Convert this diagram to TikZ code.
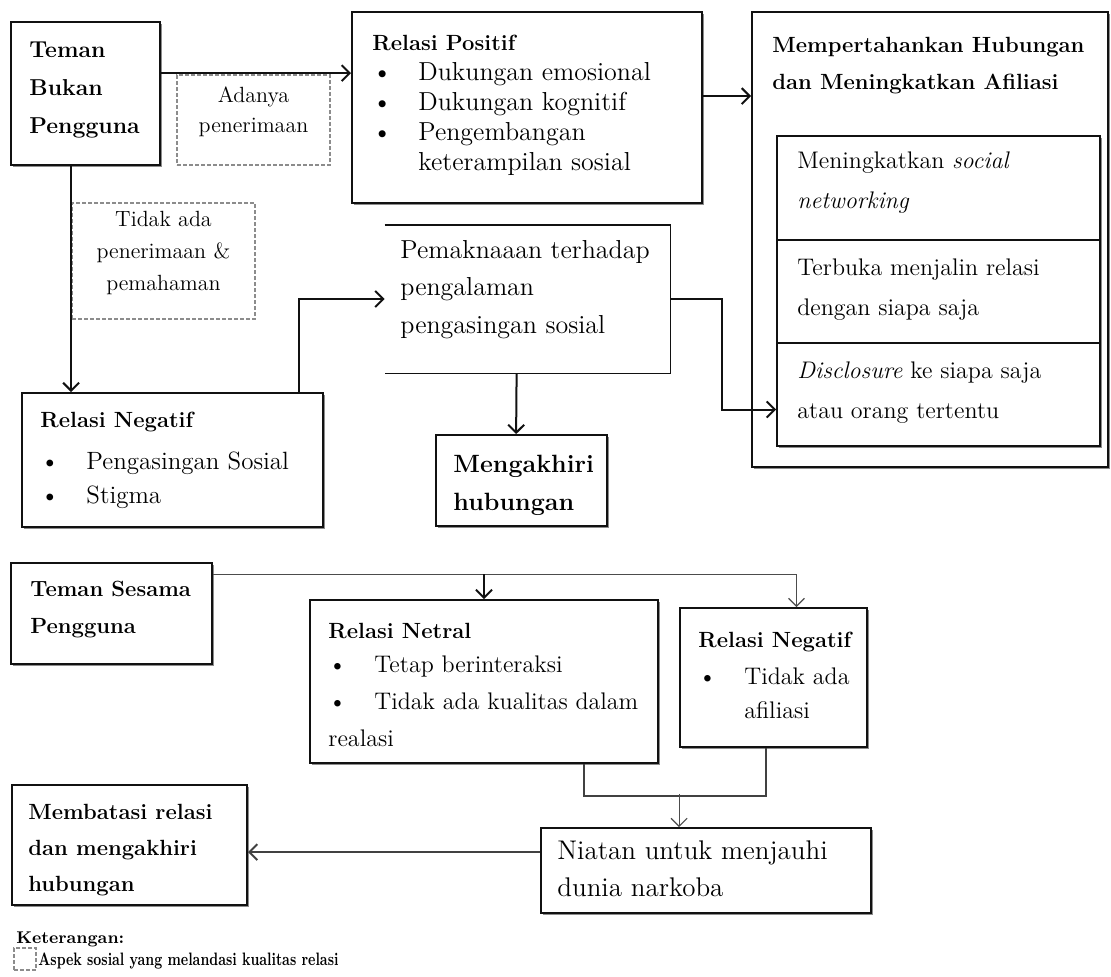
\documentclass[tikz,border=0pt]{standalone}
\usetikzlibrary{arrows.meta,calc,fit,shadows}
\definecolor{ink}{HTML}{111111}
\definecolor{rim}{HTML}{8C8C8C}
\newcommand\bul{\makebox[23pt][l]{\textbullet}}
\newcommand\bulind{\hspace*{23pt}}

\begin{document}
\begin{tikzpicture}[x=0.5pt,y=-0.5pt,>={Straight Barb[length=4pt,width=8pt]},
  box/.style={draw=ink,line width=0.9pt,fill=white,inner sep=0pt,
    drop shadow={shadow xshift=1pt,shadow yshift=-1pt,fill=rim,opacity=1}},
  aspek/.style={draw=rim,dash pattern=on 2pt off 1pt,line width=0.8pt,inner sep=0pt},
  txt/.style={anchor=base west,align=left,inner sep=0pt},
  head/.style={font=\fontsize{11}{18.5}\selectfont\bfseries},
  link/.style={draw=ink,line width=1pt,->},
  thinlink/.style={draw=ink!75,line width=0.6pt,->}]
  \useasboundingbox (0,0) rectangle (1111,976);

  % Teman bukan pengguna (text nodes sit on the baseline of their last line).
  \node[box,fit={(11,22)(160,165)}] (tbp) {};
  \node[txt,font=\fontsize{11.5}{19}\selectfont\bfseries] (tbp-t) at (29,133) {Teman\\Bukan\\Pengguna};
  \node[aspek,fit={(177,75)(330,165)},font=\fontsize{11}{15}\selectfont,align=center] (adanya) {Adanya\\penerimaan};
  \node[aspek,fit={(72,203)(255,319)},font=\fontsize{11}{16}\selectfont,align=center] (tidak) {Tidak ada\\penerimaan \&\\pemahaman};

  \node[box,fit={(352,12)(702,203)}] (positif) {};
  \node[txt,head] (positif-h) at (372,50) {Relasi Positif};
  \node[txt,font=\fontsize{13}{15}\selectfont] (positif-l) at (372,170)
    {\bul Dukungan emosional\\\bul Dukungan kognitif\\\bul Pengembangan\\\bulind keterampilan sosial};

  \node[box,fit={(752,12)(1108,467)}] (keep) {};
  \node[txt,head] (keep-t) at (772,89) {Mempertahankan Hubungan\\dan Meningkatkan Afiliasi};
  \node[box,fit={(777,136)(1100,240)}] (cell1) {};
  \node[box,fit={(777,240)(1100,343)}] (cell2) {};
  \node[box,fit={(777,343)(1100,446)}] (cell3) {};
  \node[txt,font=\fontsize{12}{20}\selectfont] (cell1-t) at (797,208) {Meningkatkan \textit{social}\\\textit{networking}};
  \node[txt,font=\fontsize{12}{20}\selectfont] (cell2-t) at (797,315) {Terbuka menjalin relasi\\dengan siapa saja};
  \node[txt,font=\fontsize{12}{20}\selectfont] (cell3-t) at (797,418) {\textit{Disclosure} ke siapa saja\\atau orang tertentu};

  \node[box,fit={(22,393)(323,527)}] (neg1) {};
  \node[txt,head] (neg1-h) at (40,427) {Relasi Negatif};
  \node[txt,font=\fontsize{12.5}{17}\selectfont] (neg1-l) at (40,503) {\bul Pengasingan Sosial\\\bul Stigma};

  \node[fit={(385,225)(670,373)},inner sep=0pt] (pemak) {};
  \draw[ink,line width=0.9pt] (pemak.north west) -- (pemak.north east) -- (pemak.south east) -- (pemak.south west);
  \node[txt,font=\fontsize{13}{18.75}\selectfont] (pemak-t) at (400,333) {Pemaknaaan terhadap\\pengalaman\\pengasingan sosial};

  \node[box,fit={(436,435)(607,526)}] (akhir) {};
  \node[txt,font=\fontsize{12.5}{19}\selectfont\bfseries] (akhir-t) at (453,510) {Mengakhiri\\hubungan};

  \draw[link] ($(tbp.north east)+(0,52)$) -- ($(positif.north west)+(0,62)$);
  \draw[link] ($(positif.north east)+(0,85)$) -- ($(keep.north west)+(0,85)$);
  \draw[link] ($(tbp.south west)+(61,0)$) -- ($(neg1.north west)+(50,0)$);
  \draw[link] ($(neg1.north west)+(278,0)$) |- (pemak.west);
  \draw[link] ($(pemak.south west)+(132,0)$) -- ($(akhir.north west)+(81,0)$);
  \draw[link] (pemak.east) -- ++(52,0) |- ($(cell3.west)+(0,15)$);

  % Teman sesama pengguna.
  \node[box,fit={(11,563)(212,664)}] (tsp) {};
  \node[txt,head] (tsp-t) at (30,633) {Teman Sesama\\Pengguna};

  \node[box,fit={(310,600)(658,763)}] (netral) {};
  \node[txt,head] (netral-h) at (328,638) {Relasi Netral};
  \node[txt,font=\fontsize{12}{18.5}\selectfont] (netral-l) at (328,746)
    {\bul Tetap berinteraksi\\\bul Tidak ada kualitas dalam\\realasi};

  \node[box,fit={(680,608)(867,747)}] (neg2) {};
  \node[txt,head] (neg2-h) at (698,647) {Relasi Negatif};
  \node[txt,font=\fontsize{12}{17}\selectfont] (neg2-l) at (698,718) {\bul Tidak ada\\\bulind afiliasi};

  \node[box,fit={(541,828)(871,913)}] (niat) {};
  \node[txt,font=\fontsize{13.5}{18.5}\selectfont] (niat-t) at (557,896) {Niatan untuk menjauhi\\dunia narkoba};

  \node[box,fit={(12,785)(247,905)}] (batas) {};
  \node[txt,head,font=\fontsize{11}{18}\selectfont\bfseries] (batas-t) at (28,891) {Membatasi relasi\\dan mengakhiri\\hubungan};

  \coordinate (tsp-o) at ($(tsp.north east)+(0,12)$);
  \draw[thinlink] (tsp-o) -| ($(neg2.north)+(23,0)$);
  \draw[link] (tsp-o -| netral.north) -- (netral.north);
  \coordinate (nj) at ($(netral.south east)+(-75,32)$);
  \draw[ink!80,line width=1pt] ($(netral.south east)+(-75,0)$) -- (nj) -| ($(neg2.south west)+(87,0)$);
  \draw[thinlink] ($(niat.north west)+(139,-33)$) -- ($(niat.north west)+(139,0)$);
  \draw[link,draw=ink!80] ($(niat.north west)+(0,25)$) -- ($(batas.north east)+(0,68)$);

  % Keterangan.
  \node[txt,font=\fontsize{8.5}{10}\selectfont\bfseries] (ket) at (16,943) {Keterangan:};
  \node[aspek,fit={(14,948)(36,970)}] (ket-box) {};
  \node[txt,font=\fontsize{9}{10}\selectfont\bfseries] (ket-t) at (38,965)
    {\scalebox{0.75}[1]{Aspek sosial yang melandasi kualitas relasi}};
\end{tikzpicture}
\end{document}
